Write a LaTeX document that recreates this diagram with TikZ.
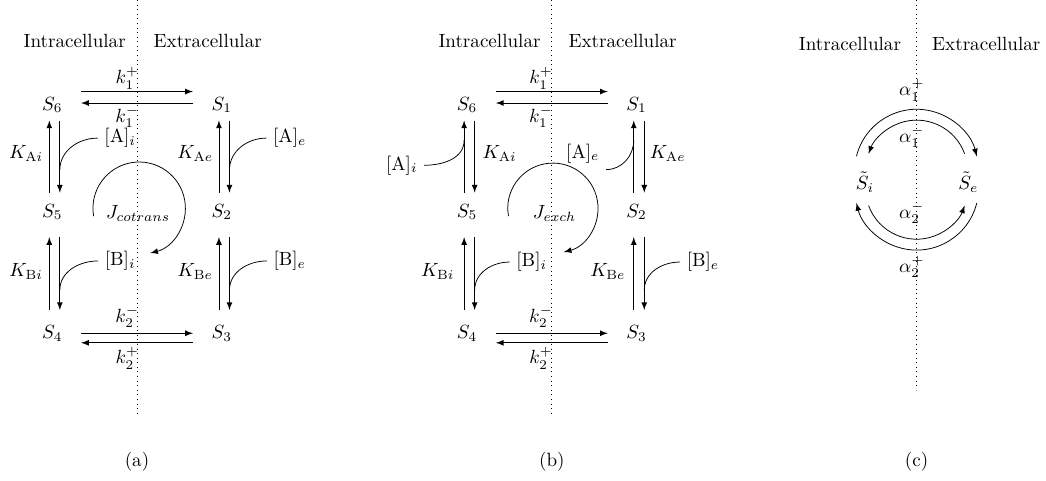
\documentclass[tikz,border=0pt]{standalone}
\usepackage{amsmath}
\usepackage{amssymb}
\usepackage{tikz}
\usetikzlibrary{calc}

\begin{document}
\begin{tikzpicture}[>=latex,
    state/.style={minimum width=1.05cm, minimum height=0.56cm, inner sep=0pt},
    side/.style={inner sep=0pt},
    membrane/.style={dotted}]
    \useasboundingbox (0,0) rectangle (19.24,8.83);

    \begin{scope}[xshift=2.52cm]
    \draw[membrane] (0,8.83) -- (0,1.16);
    \node[side, anchor=east] (ina) at (-0.2,8.07) {Intracellular};
    \node[side, anchor=west] (exa) at (0.3,8.07) {Extracellular};
    \node[state] (a6) at (-1.56,6.90) {$S_6$};
    \node[state] (a1) at (1.56,6.90) {$S_1$};
    \node[state] (a5) at (-1.56,4.93) {$S_5$};
    \node[state] (a2) at (1.56,4.93) {$S_2$};
    \node[state] (a4) at (-1.56,2.70) {$S_4$};
    \node[state] (a3) at (1.56,2.70) {$S_3$};
    \draw[->] ([yshift=7pt]a6.east) -- ([yshift=7pt]a1.west);
    \draw[->] ([yshift=1pt]a1.west) -- ([yshift=1pt]a6.east);
    \draw[->] (a4.east) -- (a3.west);
    \draw[->] ([yshift=-5pt]a3.west) -- ([yshift=-5pt]a4.east);
    \node (ka1p) at (-0.18,7.39) {$k_1^+$};
    \node (ka1m) at (-0.18,6.68) {$k_1^-$};
    \node (ka2m) at (-0.18,3.00) {$k_2^-$};
    \node (ka2p) at (-0.18,2.24) {$k_2^+$};
    \draw[->, shorten <=2pt] ([xshift=-1.5pt]a5.north) -- ([xshift=-1.5pt]a6.south);
    \draw[->, shorten >=2pt] ([xshift=4pt]a6.south) -- ([xshift=4pt]a5.north);
    \draw[->, shorten <=2pt] ([xshift=-1.5pt]a2.north) -- ([xshift=-1.5pt]a1.south);
    \draw[->, shorten >=2pt] ([xshift=4pt]a1.south) -- ([xshift=4pt]a2.north);
    \draw[->, shorten <=4pt, shorten >=5pt] ([xshift=-1.5pt]a4.north) -- ([xshift=-1.5pt]a5.south);
    \draw[->, shorten <=5pt, shorten >=4pt] ([xshift=4pt]a5.south) -- ([xshift=4pt]a4.north);
    \draw[->, shorten <=4pt, shorten >=5pt] ([xshift=-1.5pt]a3.north) -- ([xshift=-1.5pt]a2.south);
    \draw[->, shorten <=5pt, shorten >=4pt] ([xshift=4pt]a2.south) -- ([xshift=4pt]a3.north);
    \node (kaai) at (-2.04,6.0) {$K_{\mathrm{A}i}$};
    \node (kaae) at (1.07,6.0) {$K_{\mathrm{A}e}$};
    \node (kabi) at (-2.04,3.83) {$K_{\mathrm{B}i}$};
    \node (kabe) at (1.07,3.83) {$K_{\mathrm{B}e}$};
    \node (aai) at (-0.31,6.29) {$[\mathrm{A}]_i$};
    \node (aae) at (2.81,6.29) {$[\mathrm{A}]_e$};
    \node (abi) at (-0.31,4.03) {$[\mathrm{B}]_i$};
    \node (abe) at (2.81,4.03) {$[\mathrm{B}]_e$};
    \coordinate (pai) at (-1.42,5.70);
    \coordinate (pae) at (1.70,5.70);
    \coordinate (pbi) at (-1.42,3.49);
    \coordinate (pbe) at (1.70,3.49);
    \draw (aai.west) to[out=180, in=90] (pai);
    \draw (aae.west) to[out=180, in=90] (pae);
    \draw (abi.west) to[out=180, in=90] (pbi);
    \draw (abe.west) to[out=180, in=90] (pbe);
    \node (jca) at (0.02,4.91) {$J_{cotrans}$};
    \coordinate (ca) at (0.04,5.0);
    \draw[->] ([shift={(190:0.85)}]ca) arc[start angle=190, end angle=-76, radius=0.85];
    \node (capa) at (0,0.33) {(a)};
    \end{scope}

    \begin{scope}[xshift=10.15cm]
    \draw[membrane] (0,8.83) -- (0,1.16);
    \node[side, anchor=east] (inb) at (-0.2,8.07) {Intracellular};
    \node[side, anchor=west] (exb) at (0.3,8.07) {Extracellular};
    \node[state] (b6) at (-1.56,6.90) {$S_6$};
    \node[state] (b1) at (1.56,6.90) {$S_1$};
    \node[state] (b5) at (-1.56,4.93) {$S_5$};
    \node[state] (b2) at (1.56,4.93) {$S_2$};
    \node[state] (b4) at (-1.56,2.70) {$S_4$};
    \node[state] (b3) at (1.56,2.70) {$S_3$};
    \draw[->] ([yshift=7pt]b6.east) -- ([yshift=7pt]b1.west);
    \draw[->] ([yshift=1pt]b1.west) -- ([yshift=1pt]b6.east);
    \draw[->] (b4.east) -- (b3.west);
    \draw[->] ([yshift=-5pt]b3.west) -- ([yshift=-5pt]b4.east);
    \node (kb1p) at (-0.2,7.39) {$k_1^+$};
    \node (kb1m) at (-0.2,6.68) {$k_1^-$};
    \node (kb2m) at (-0.2,3.00) {$k_2^-$};
    \node (kb2p) at (-0.2,2.24) {$k_2^+$};
    \draw[->, shorten <=2pt] ([xshift=-1.5pt]b5.north) -- ([xshift=-1.5pt]b6.south);
    \draw[->, shorten >=2pt] ([xshift=4pt]b6.south) -- ([xshift=4pt]b5.north);
    \draw[->, shorten <=2pt] ([xshift=-1.5pt]b2.north) -- ([xshift=-1.5pt]b1.south);
    \draw[->, shorten >=2pt] ([xshift=4pt]b1.south) -- ([xshift=4pt]b2.north);
    \draw[->, shorten <=4pt, shorten >=5pt] ([xshift=-1.5pt]b4.north) -- ([xshift=-1.5pt]b5.south);
    \draw[->, shorten <=5pt, shorten >=4pt] ([xshift=4pt]b5.south) -- ([xshift=4pt]b4.north);
    \draw[->, shorten <=4pt, shorten >=5pt] ([xshift=-1.5pt]b3.north) -- ([xshift=-1.5pt]b2.south);
    \draw[->, shorten <=5pt, shorten >=4pt] ([xshift=4pt]b2.south) -- ([xshift=4pt]b3.north);
    \node (kbai) at (-0.96,6.0) {$K_{\mathrm{A}i}$};
    \node (kbae) at (2.13,6.0) {$K_{\mathrm{A}e}$};
    \node (kbbi) at (-2.10,3.83) {$K_{\mathrm{B}i}$};
    \node (kbbe) at (1.03,3.83) {$K_{\mathrm{B}e}$};
    \node (bai) at (-2.76,5.79) {$[\mathrm{A}]_i$};
    \node (bae) at (0.57,6.01) {$[\mathrm{A}]_e$};
    \node (bbi) at (-0.37,4.01) {$[\mathrm{B}]_i$};
    \node (bbe) at (2.78,4.01) {$[\mathrm{B}]_e$};
    \coordinate (qai) at (-1.613,6.25);
    \coordinate (qae) at (1.507,6.25);
    \coordinate (qbi) at (-1.42,3.49);
    \coordinate (qbe) at (1.70,3.49);
    \draw (bai.east) to[out=0, in=-90] (qai);
    \draw (bae.south east) to[out=0, in=-90] (qae);
    \draw (bbi.west) to[out=180, in=90] (qbi);
    \draw (bbe.west) to[out=180, in=90] (qbe);
    \node (jex) at (0.05,4.91) {$J_{exch}$};
    \coordinate (cb) at (0.02,5.0);
    \draw[->] ([shift={(190:0.83)}]cb) arc[start angle=190, end angle=-76, radius=0.83];
    \node (capb) at (0,0.33) {(b)};
    \end{scope}

    \begin{scope}[xshift=16.86cm]
    \draw[membrane] (0,8.83) -- (0,1.66);
    \node[side, anchor=east] (inc) at (-0.28,8.02) {Intracellular};
    \node[side, anchor=west] (exc) at (0.28,8.02) {Extracellular};
    \node (ci) at (-0.95,5.48) {$\tilde{S}_i$};
    \node (ce) at (0.95,5.48) {$\tilde{S}_e$};
    \coordinate (ctop) at (0,5.68);
    \coordinate (cbot) at (0,5.37);
    \draw[->] ([shift={(166:1.14)}]ctop) arc[start angle=166, end angle=14, radius=1.14];
    \draw[->] ([shift={(20:0.94)}]ctop) arc[start angle=20, end angle=160, radius=0.94];
    \draw[->] ([shift={(-14:1.14)}]cbot) arc[start angle=-14, end angle=-166, radius=1.14];
    \draw[->] ([shift={(-160:0.94)}]cbot) arc[start angle=-160, end angle=-20, radius=0.94];
    \node (al1p) at (-0.09,7.17) {$\alpha_1^+$};
    \node (al1m) at (-0.09,6.31) {$\alpha_1^-$};
    \node (al2m) at (-0.09,4.91) {$\alpha_2^-$};
    \node (al2p) at (-0.09,3.92) {$\alpha_2^+$};
    \node (capc) at (0,0.33) {(c)};
    \end{scope}
\end{tikzpicture}
\end{document}
